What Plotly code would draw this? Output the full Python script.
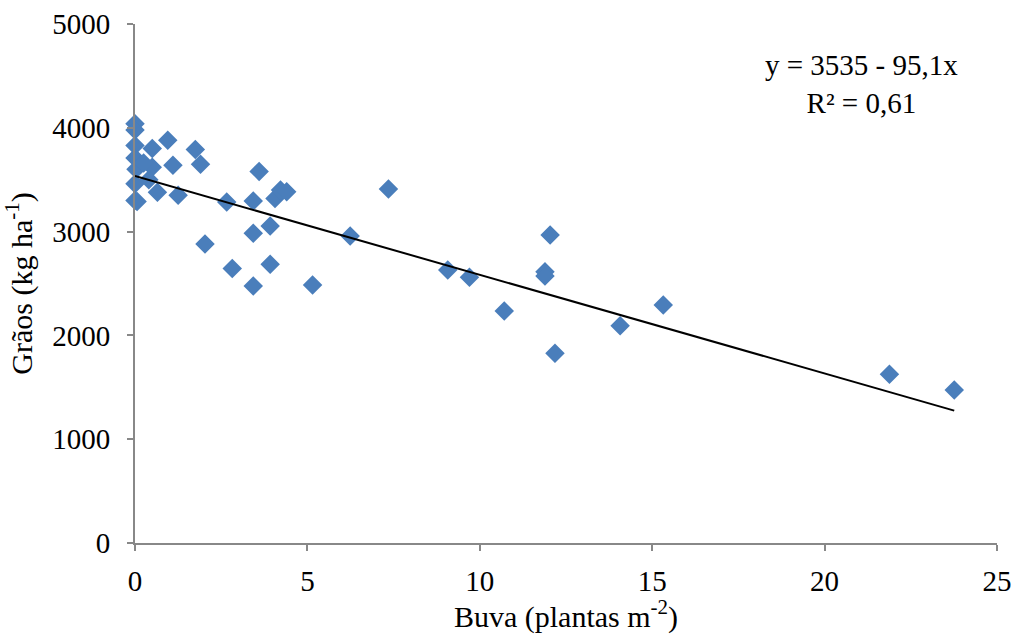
import plotly.graph_objects as go

# Data
buva = [0, 0, 0, 0, 0.03, 0, 0, 0.06,
        0.5, 0.95, 1.75, 1.9, 1.1, 0.5, 0.25, 0.4, 0.65, 1.25,
        3.6, 2.66, 3.43, 4.06, 4.22, 4.4, 3.92, 3.43, 2.03, 2.82, 3.92, 3.43,
        6.24, 7.35, 5.15,
        12.04, 9.07, 9.7, 11.89, 11.89, 10.71, 14.07, 15.32, 12.18,
        21.88, 23.76]
graos = [4040, 3980, 3830, 3710, 3600, 3460, 3300, 3290,
         3800, 3880, 3790, 3650, 3640, 3620, 3660, 3500, 3380, 3350,
         3580, 3285, 3295, 3320, 3400, 3385, 3055, 2985, 2880, 2645, 2685, 2475,
         2958, 3410, 2486,
         2967, 2630, 2560, 2614, 2572, 2235, 2094, 2293, 1828,
         1625, 1474]

intercept = 3535
slope = -95.1
x_ticks = [0, 5, 10, 15, 20, 25]
y_ticks = [0, 1000, 2000, 3000, 4000, 5000]

fit_x = [min(buva), max(buva)]
fit_y = [intercept + slope * v for v in fit_x]

font_family = "Liberation Serif, Times New Roman, serif"
FS = 29
FT = 30

fig = go.Figure()
fig.add_trace(go.Scatter(
    x=buva, y=graos, mode="markers",
    marker=dict(symbol="diamond", size=15, color="#4A7EBB", line=dict(width=0)),
    showlegend=False, cliponaxis=False,
))
fig.add_trace(go.Scatter(
    x=fit_x, y=fit_y, mode="lines",
    line=dict(color="black", width=2),
    showlegend=False,
))

fig.add_annotation(
    x=0.843, y=0.885, xref="paper", yref="paper",
    xanchor="center", yanchor="middle",
    text="y = 3535 - 95,1x<br>R² = 0,61",
    showarrow=False, align="center",
    font=dict(family=font_family, size=FS, color="black"),
)

axis_common = dict(
    showgrid=False, zeroline=False, showline=True,
    linecolor="#888888", linewidth=2,
    ticks="outside", ticklen=6, tickwidth=1.5, tickcolor="#888888",
    tickfont=dict(family=font_family, size=FS, color="black"),
    automargin=False,
)

fig.update_xaxes(
    range=[0, 25], tickvals=x_ticks, ticklabelstandoff=5,
    title=dict(text="Buva (plantas m<sup>-2</sup>)",
               font=dict(family=font_family, size=FT, color="black"), standoff=0),
    **axis_common,
)
fig.update_yaxes(
    range=[0, 5000], tickvals=y_ticks, ticklabelstandoff=11,
    title=dict(text="Grãos (kg ha<sup>-1</sup>)",
               font=dict(family=font_family, size=FT, color="black"), standoff=18),
    **axis_common,
)

fig.update_layout(
    width=1013, height=634,
    margin=dict(l=135, r=16, t=24, b=91),
    plot_bgcolor="white", paper_bgcolor="white",
)

# remove the default page margin so the figure fills the window exactly
fig.write_html(
    "out.html",
    config={"displayModeBar": False},
    post_script="document.body.style.margin='0';document.body.style.overflow='hidden';",
)
